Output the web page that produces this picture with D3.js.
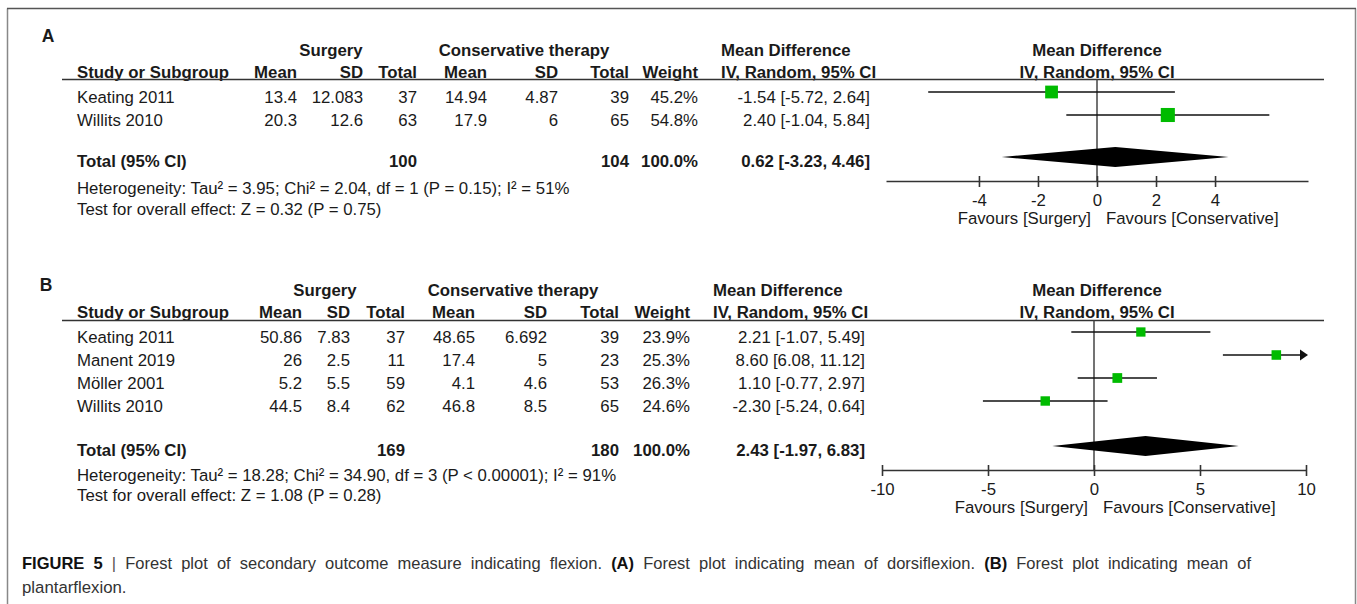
<!DOCTYPE html>
<html>
<head>
<meta charset="utf-8">
<script src="https://cdn.jsdelivr.net/npm/d3@7"></script>
<style>
  html, body { margin: 0; padding: 0; background: #fff; }
  svg { display: block; font-family: "Liberation Sans", Arial, sans-serif; }
</style>
</head>
<body>
<svg id="chart" width="1357" height="604"></svg>
<script>
// --- panel A: dorsiflexion ---
var studiesA = ["Keating 2011", "Willits 2010"];
var surgMeanA = ["13.4", "20.3"];
var surgSdA = ["12.083", "12.6"];
var surgNA = [37, 63];
var consMeanA = ["14.94", "17.9"];
var consSdA = ["4.87", "6"];
var consNA = [39, 65];
var weightA = [45.2, 54.8];
var mdA = [-1.54, 2.40];
var loA = [-5.72, -1.04];
var hiA = [2.64, 5.84];
var totalA = [0.62, -3.23, 4.46];   // md, lo, hi
var totalNA = [100, 104];
var hetA = "Heterogeneity: Tau² = 3.95; Chi² = 2.04, df = 1 (P = 0.15); I² = 51%";
var testA = "Test for overall effect: Z = 0.32 (P = 0.75)";
var ticksA = [-4, -2, 0, 2, 4];

// --- panel B: plantarflexion ---
var studiesB = ["Keating 2011", "Manent 2019", "Möller 2001", "Willits 2010"];
var surgMeanB = ["50.86", "26", "5.2", "44.5"];
var surgSdB = ["7.83", "2.5", "5.5", "8.4"];
var surgNB = [37, 11, 59, 62];
var consMeanB = ["48.65", "17.4", "4.1", "46.8"];
var consSdB = ["6.692", "5", "4.6", "8.5"];
var consNB = [39, 23, 53, 65];
var weightB = [23.9, 25.3, 26.3, 24.6];
var mdB = [2.21, 8.60, 1.10, -2.30];
var loB = [-1.07, 6.08, -0.77, -5.24];
var hiB = [5.49, 11.12, 2.97, 0.64];
var totalB = [2.43, -1.97, 6.83];
var totalNB = [169, 180];
var hetB = "Heterogeneity: Tau² = 18.28; Chi² = 34.90, df = 3 (P < 0.00001); I² = 91%";
var testB = "Test for overall effect: Z = 1.08 (P = 0.28)";
var ticksB = [-10, -5, 0, 5, 10];

var svg = d3.select("#chart");
var FS = 16.8;
var ink = "#1a1a1a";

// frame (open at the bottom, like the cropped figure)
svg.append("path")
  .attr("d", "M7.5,610 V8.5 M1355.5,8.5 V610")
  .attr("fill", "none").attr("stroke", "#888").attr("stroke-width", 1.5);
svg.append("line").attr("x1", 7).attr("x2", 1356).attr("y1", 8.5).attr("y2", 8.5)
  .attr("stroke", "#555").attr("stroke-width", 1.5);

var sizeScale = d3.scaleSqrt().domain([0, 100]).range([0, 19]);

function fmt(v) { return (v < 0 ? "-" : "") + Math.abs(v).toFixed(2); }

function txt(g, x, y, s, anchor, bold, size) {
  return g.append("text").attr("x", x).attr("y", y).text(s)
    .attr("text-anchor", anchor || "start")
    .attr("font-weight", bold ? "bold" : "normal")
    .attr("font-size", size || FS)
    .attr("fill", ink);
}

function drawPanel(p) {
  var g = svg.append("g");
  var c = p.cols;
  var n = p.studies.length;

  txt(g, p.labelX, p.labelY, p.label, "middle", true, 17.5);

  // headers
  txt(g, p.surgX, p.h1, "Surgery", "middle", true);
  txt(g, p.consX, p.h1, "Conservative therapy", "middle", true);
  txt(g, c.md, p.h1, "Mean Difference", "start", true);
  txt(g, p.plotHeadX, p.h1, "Mean Difference", "middle", true);

  txt(g, 77, p.h2, "Study or Subgroup", "start", true);
  txt(g, c.sMean, p.h2, "Mean", "end", true);
  txt(g, c.sSd, p.h2, "SD", "end", true);
  txt(g, c.sN, p.h2, "Total", "end", true);
  txt(g, c.cMean, p.h2, "Mean", "end", true);
  txt(g, c.cSd, p.h2, "SD", "end", true);
  txt(g, c.cN, p.h2, "Total", "end", true);
  txt(g, c.w, p.h2, "Weight", "end", true);
  txt(g, c.md, p.h2, "IV, Random, 95% CI", "start", true);
  txt(g, p.plotHeadX, p.h2, "IV, Random, 95% CI", "middle", true);

  g.append("line").attr("x1", 62).attr("x2", 1324)
    .attr("y1", p.hLine).attr("y2", p.hLine)
    .attr("stroke", "#333").attr("stroke-width", 1.6);

  // rows
  var idx = d3.range(n);
  var rowY = function (i) { return p.row0 + i * p.rowStep; };
  var cols = [
    ["start", 77, p.studies],
    ["end", c.sMean, p.surgMean],
    ["end", c.sSd, p.surgSd],
    ["end", c.sN, p.surgN],
    ["end", c.cMean, p.consMean],
    ["end", c.cSd, p.consSd],
    ["end", c.cN, p.consN],
    ["end", c.w, p.weight.map(function (w) { return w.toFixed(1) + "%"; })],
    ["end", c.ci, idx.map(function (i) { return fmt(p.md[i]) + " [" + fmt(p.lo[i]) + ", " + fmt(p.hi[i]) + "]"; })]
  ];
  cols.forEach(function (col) {
    g.append("g").selectAll("text").data(col[2]).join("text")
      .attr("x", col[1]).attr("y", function (d, i) { return rowY(i) + 5.5; })
      .attr("text-anchor", col[0]).attr("font-size", FS).attr("fill", ink)
      .text(function (d) { return d; });
  });

  // total row
  var ty = p.totalY + 9;
  txt(g, 77, ty, "Total (95% CI)", "start", true);
  txt(g, c.sN, ty, p.totalN[0], "end", true);
  txt(g, c.cN, ty, p.totalN[1], "end", true);
  txt(g, c.w, ty, "100.0%", "end", true);
  txt(g, c.ci, ty, fmt(p.total[0]) + " [" + fmt(p.total[1]) + ", " + fmt(p.total[2]) + "]", "end", true);
  txt(g, 77, p.hetY, p.het, "start", false);
  txt(g, 77, p.testY, p.test, "start", false);

  // plot
  var x = d3.scaleLinear().domain(p.domain).range(p.range);
  var xmax = p.domain[1], xmin = p.domain[0];

  g.append("line").attr("x1", x(0)).attr("x2", x(0))
    .attr("y1", p.hLine).attr("y2", p.axisY)
    .attr("stroke", "#444").attr("stroke-width", 1.5);

  var ci = g.append("g");
  ci.selectAll("line").data(idx).join("line")
    .attr("x1", function (i) { return x(Math.max(p.lo[i], xmin)); })
    .attr("x2", function (i) { return x(Math.min(p.hi[i], xmax)); })
    .attr("y1", function (i) { return rowY(i) - 5; })
    .attr("y2", function (i) { return rowY(i) - 5; })
    .attr("stroke", "#111").attr("stroke-width", 1.4);

  // arrow where the CI runs past the axis
  ci.selectAll("path").data(idx.filter(function (i) { return p.hi[i] > xmax; })).join("path")
    .attr("d", function (i) {
      var ax = x(xmax) + 2, ay = rowY(i) - 5;
      return "M" + ax + "," + ay + " L" + (ax - 8) + "," + (ay - 5.5) + " L" + (ax - 8) + "," + (ay + 5.5) + " Z";
    })
    .attr("fill", "#111");

  g.append("g").selectAll("rect").data(idx).join("rect")
    .attr("x", function (i) { return x(p.md[i]) - sizeScale(p.weight[i]) / 2; })
    .attr("y", function (i) { return rowY(i) - 5 - sizeScale(p.weight[i]) / 2; })
    .attr("width", function (i) { return sizeScale(p.weight[i]); })
    .attr("height", function (i) { return sizeScale(p.weight[i]); })
    .attr("fill", "#00bb00");

  var dy = p.totalY - 1, dh = 10;
  g.append("path")
    .attr("d", "M" + x(p.total[1]) + "," + dy + " L" + x(p.total[0]) + "," + (dy - dh) +
      " L" + x(p.total[2]) + "," + dy + " L" + x(p.total[0]) + "," + (dy + dh) + " Z")
    .attr("fill", "#000");

  // axis
  var axis = g.append("g").attr("transform", "translate(0," + p.axisY + ")")
    .call(d3.axisBottom(x).tickValues(p.ticks).tickSize(0).tickPadding(13).tickFormat(d3.format("d")));
  axis.select(".domain").attr("stroke", "#333").attr("stroke-width", 1.6);
  axis.selectAll("text").attr("font-size", FS).attr("fill", ink)
    .attr("font-family", "Liberation Sans, Arial, sans-serif")
    .text(function (d) { return d < 0 ? "-" + Math.abs(d) : d; });
  axis.selectAll(".tick").append("line")
    .attr("y1", -5).attr("y2", 6).attr("stroke", "#333").attr("stroke-width", 1.6);

  txt(g, x(0) - 6, p.axisY + 43, "Favours [Surgery]", "end", false);
  txt(g, x(0) + 9, p.axisY + 43, "Favours [Conservative]", "start", false);
}

drawPanel({
  label: "A", labelX: 48, labelY: 42,
  studies: studiesA, surgMean: surgMeanA, surgSd: surgSdA, surgN: surgNA,
  consMean: consMeanA, consSd: consSdA, consN: consNA, weight: weightA,
  md: mdA, lo: loA, hi: hiA, total: totalA, totalN: totalNA, het: hetA, test: testA,
  ticks: ticksA, domain: [-7.15, 7.15], range: [886, 1308],
  cols: { sMean: 297, sSd: 363, sN: 417, cMean: 487, cSd: 558, cN: 629, w: 698, md: 721, ci: 870 },
  surgX: 331, consX: 524, plotHeadX: 1097,
  h1: 56, h2: 78, hLine: 79.5, row0: 97, rowStep: 23, totalY: 158,
  hetY: 194, testY: 215, axisY: 181
});

drawPanel({
  label: "B", labelX: 46, labelY: 291,
  studies: studiesB, surgMean: surgMeanB, surgSd: surgSdB, surgN: surgNB,
  consMean: consMeanB, consSd: consSdB, consN: consNB, weight: weightB,
  md: mdB, lo: loB, hi: hiB, total: totalB, totalN: totalNB, het: hetB, test: testB,
  ticks: ticksB, domain: [-10, 10], range: [882, 1306],
  cols: { sMean: 302, sSd: 350, sN: 405, cMean: 475, cSd: 547, cN: 619, w: 690, md: 713, ci: 865 },
  surgX: 325, consX: 513, plotHeadX: 1097,
  h1: 296, h2: 318, hLine: 320.5, row0: 337, rowStep: 23, totalY: 447,
  hetY: 481, testY: 501, axisY: 470
});

// caption (first line justified to the full width)
var cap = svg.append("text").attr("x", 22).attr("y", 569)
  .attr("font-size", 16.5).attr("fill", "#333");
cap.append("tspan").attr("font-weight", "bold").attr("fill", "#111").text("FIGURE 5");
cap.append("tspan").attr("fill", "#555").text(" | ");
cap.append("tspan").text("Forest plot of secondary outcome measure indicating flexion. ");
cap.append("tspan").attr("font-weight", "bold").attr("fill", "#111").text("(A)");
cap.append("tspan").text(" Forest plot indicating mean of dorsiflexion. ");
cap.append("tspan").attr("font-weight", "bold").attr("fill", "#111").text("(B)");
cap.append("tspan").text(" Forest plot indicating mean of");
var natural = cap.node().getComputedTextLength();
var spaces = (cap.text().match(/ /g) || []).length;
cap.attr("word-spacing", Math.max(0, (1251 - 22 - natural) / spaces));

svg.append("text").attr("x", 22).attr("y", 593)
  .attr("font-size", 16.8).attr("fill", "#333").text("plantarflexion.");
</script>
</body>
</html>
